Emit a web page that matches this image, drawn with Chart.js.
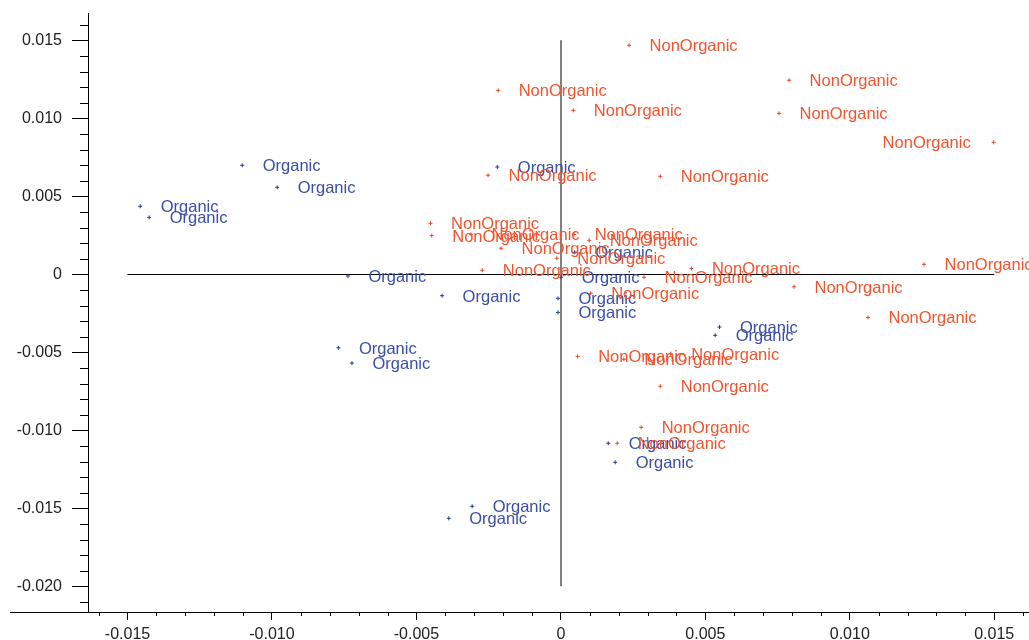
<!DOCTYPE html>
<html>
<head>
<meta charset="utf-8">
<script src="https://cdn.jsdelivr.net/npm/chart.js@4.4.0/dist/chart.umd.min.js"></script>
<style>
  html, body { margin: 0; padding: 0; background: #ffffff; }
  #wrap { width: 1029px; height: 640px; }
</style>
</head>
<body>
<div id="wrap"><canvas id="plot" width="1029" height="640"></canvas></div>
<script>
/* DATA */
var organicX = [-0.01456, -0.01425, -0.01103, -0.00982, -0.00737, -0.00411, -0.00010, -0.00010, 0.00001, 0.00048,
                -0.00220, -0.00770, -0.00723, 0.00549, 0.00534, 0.00164, 0.00188, -0.00307, -0.00388];
var organicY = [0.00436, 0.00365, 0.00699, 0.00558, -0.00011, -0.00137, -0.00154, -0.00244, -0.00019, 0.00141,
                0.00688, -0.00471, -0.00569, -0.00338, -0.00391, -0.01083, -0.01205, -0.01487, -0.01564];
var nonOrganicX = [0.00236, -0.00217, 0.00043, -0.00252, 0.00344, 0.00790, 0.00755, 0.01498, 0.01257, 0.00807,
                   0.01063, -0.00451, -0.00447, -0.00311, -0.00207, 0.00046, 0.00098, -0.00014, -0.00272, 0.00288,
                   0.00103, 0.00452, 0.00058, 0.00218, 0.00380, 0.00344, 0.00278, 0.00195];
var nonOrganicY = [0.01468, 0.01179, 0.01051, 0.00635, 0.00628, 0.01244, 0.01032, 0.00846, 0.00064, -0.00080,
                   -0.00276, 0.00327, 0.00248, 0.00256, 0.00167, 0.00256, 0.00218, 0.00103, 0.00026, -0.00019,
                   -0.00122, 0.00038, -0.00526, -0.00545, -0.00509, -0.00718, -0.00981, -0.01083];
var xTicks = [-0.015, -0.010, -0.005, 0, 0.005, 0.010, 0.015];
var yTicks = [-0.020, -0.015, -0.010, -0.005, 0, 0.005, 0.010, 0.015];
var seriesNames = ["Organic", "NonOrganic"];

/* STYLE */
var FONT = "Liberation Sans, Arial, sans-serif";
var blueMark = "#26389a", redMark = "#ee4422";
var blueText = "#3b4fa6", redText = "#f0552f";

function toPoints(xs, ys) {
  return xs.map(function (x, i) { return { x: x, y: ys[i] }; });
}
function fmt(v) {
  if (Math.abs(v) < 1e-9) return "0";
  return v.toFixed(3);
}

/* CROSS LINES, MINOR TICKS, POINT LABELS */
var extras = {
  id: "extras",
  beforeDatasetsDraw: function (chart) {
    var ctx = chart.ctx, xs = chart.scales.x, ys = chart.scales.y;
    var area = chart.chartArea;
    ctx.save();
    // horizontal zero line
    ctx.strokeStyle = "#000000";
    ctx.lineWidth = 1;
    var y0 = Math.round(ys.getPixelForValue(0)) + 0.5;
    ctx.beginPath();
    ctx.moveTo(xs.getPixelForValue(-0.015), y0);
    ctx.lineTo(xs.getPixelForValue(0.015), y0);
    ctx.stroke();
    // vertical zero line
    ctx.strokeStyle = "#808080";
    ctx.lineWidth = 2;
    var x0 = Math.round(xs.getPixelForValue(0));
    ctx.beginPath();
    ctx.moveTo(x0, ys.getPixelForValue(0.015));
    ctx.lineTo(x0, ys.getPixelForValue(-0.020));
    ctx.stroke();
    // x axis line extends left past y axis and to the right edge
    ctx.strokeStyle = "#000000";
    ctx.lineWidth = 1;
    var yb = Math.round(area.bottom) + 0.5;
    ctx.beginPath();
    ctx.moveTo(10, yb);
    ctx.lineTo(area.left, yb);
    ctx.moveTo(area.right, yb);
    ctx.lineTo(chart.width, yb);
    ctx.stroke();
    // minor ticks
    ctx.beginPath();
    for (var k = -21; k <= 16; k++) {
      if (k % 5 === 0) continue;
      var py = Math.round(ys.getPixelForValue(k / 1000)) + 0.5;
      ctx.moveTo(area.left - 8, py);
      ctx.lineTo(area.left, py);
    }
    for (var j = -16; j <= 16; j++) {
      if (j % 5 === 0) continue;
      var px = Math.round(xs.getPixelForValue(j / 1000)) + 0.5;
      ctx.moveTo(px, area.bottom);
      ctx.lineTo(px, area.bottom + 4);
    }
    ctx.stroke();
    ctx.restore();
  },
  afterDatasetsDraw: function (chart) {
    var ctx = chart.ctx;
    ctx.save();
    ctx.font = "16.5px " + FONT;
    ctx.textBaseline = "alphabetic";
    chart.data.datasets.forEach(function (ds, di) {
      var meta = chart.getDatasetMeta(di);
      ctx.fillStyle = ds.textColor;
      meta.data.forEach(function (el) {
        var w = ctx.measureText(ds.label).width;
        if (el.x + 21 + w > chart.width + 40) {
          ctx.textAlign = "right";
          ctx.fillText(ds.label, el.x - 23, el.y + 6);
        } else {
          ctx.textAlign = "left";
          ctx.fillText(ds.label, el.x + 20.5, el.y + 6);
        }
      });
    });
    ctx.restore();
  }
};

var ctx = document.getElementById("plot").getContext("2d");
var chart = new Chart(ctx, {
  type: "scatter",
  data: {
    datasets: [
      {
        label: seriesNames[0],
        data: toPoints(organicX, organicY),
        pointStyle: "cross",
        pointRadius: 2,
        borderWidth: 1,
        borderColor: blueMark,
        backgroundColor: blueMark,
        textColor: blueText
      },
      {
        label: seriesNames[1],
        data: toPoints(nonOrganicX, nonOrganicY),
        pointStyle: "cross",
        pointRadius: 2,
        borderWidth: 1,
        borderColor: redMark,
        backgroundColor: redMark,
        textColor: redText
      }
    ]
  },
  options: {
    responsive: false,
    animation: false,
    clip: false,
    layout: { padding: { top: 13, left: 0, right: 0, bottom: 0 } },
    plugins: {
      legend: { display: false },
      tooltip: { enabled: false }
    },
    scales: {
      x: {
        type: "linear",
        min: -0.016367,
        max: 0.01603,
        afterBuildTicks: function (s) { s.ticks = xTicks.map(function (v) { return { value: v }; }); },
        afterFit: function (s) { s.height = 28; s.paddingLeft = 0; s.paddingRight = 0; },
        border: { display: true, color: "#000000", width: 1 },
        grid: { drawOnChartArea: false, drawTicks: true, tickLength: 8, tickColor: "#000000" },
        ticks: {
          color: "#222222",
          font: { family: FONT, size: 16 },
          padding: 5,
          maxRotation: 0,
          autoSkip: false,
          callback: function (v) { return fmt(v); }
        }
      },
      y: {
        type: "linear",
        min: -0.021647,
        max: 0.01675,
        afterBuildTicks: function (s) { s.ticks = yTicks.map(function (v) { return { value: v }; }); },
        afterFit: function (s) { s.width = 88; s.paddingTop = 0; s.paddingBottom = 0; },
        border: { display: true, color: "#000000", width: 1 },
        grid: { drawOnChartArea: false, drawTicks: true, tickLength: 16, tickColor: "#000000" },
        ticks: {
          color: "#222222",
          font: { family: FONT, size: 16 },
          padding: 10,
          autoSkip: false,
          callback: function (v) { return fmt(v); }
        }
      }
    }
  },
  plugins: [extras]
});
</script>
</body>
</html>
